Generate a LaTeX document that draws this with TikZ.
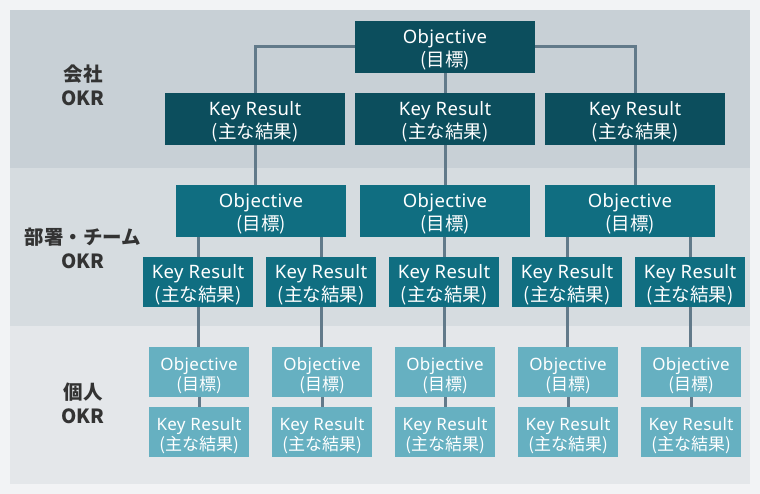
\documentclass[tikz,border=0pt]{standalone}
\usepackage{fontspec}
\setmainfont[LetterSpace=2]{Noto Sans}
\newfontfamily\jp{Noto Sans CJK JP}
\newcommand\mystrut{\rule{0pt}{20pt}}
\definecolor{pagebg}{HTML}{F2F3F5}
\definecolor{bandA}{HTML}{C8D0D6}
\definecolor{bandB}{HTML}{D6DCE0}
\definecolor{bandC}{HTML}{E4E7EA}
\definecolor{darkbox}{HTML}{0C4E5D}
\definecolor{midbox}{HTML}{106E81}
\definecolor{lightbox}{HTML}{66B0C1}
\definecolor{linec}{HTML}{627A8A}
\definecolor{labc}{HTML}{333333}
\begin{document}
\begin{tikzpicture}[x=1pt,y=-1pt,
  basebox/.style={inner sep=0pt, align=center, text=white},
  boxA/.style={basebox, fill=darkbox, minimum width=180pt, minimum height=52pt, font=\fontsize{18.5}{23.5}\selectfont},
  boxB/.style={basebox, fill=midbox, minimum height=52pt, font=\fontsize{18.5}{23.5}\selectfont},
  boxC/.style={basebox, fill=lightbox, minimum width=100pt, minimum height=50pt, font=\fontsize{17}{20}\selectfont},
  lab/.style={align=center, text=labc, inner sep=0pt, font=\jp\bfseries\fontsize{19.5}{24}\selectfont},
  conn/.style={draw=linec, line width=3pt}]
\useasboundingbox (0,0) rectangle (760,494);
\fill[pagebg] (0,0) rectangle (760,494);
\fill[bandA] (10,10) rectangle (750,168);
\fill[bandB] (10,168) rectangle (750,326);
\fill[bandC] (10,326) rectangle (750,484);

\node[lab] (l1) at (83,85) {会社\\OKR};
\node[lab] (l2) at (83,248) {部署・チーム\\OKR};
\node[lab] (l3) at (83,403.5) {個人\\OKR};

% company
\node[boxA] (o0) at (445,47) {\mystrut Objective\\{\jp (目標)}};
\node[boxA] (k1) at (255,119) {\mystrut Key Result\\{\jp (主な結果)}};
\node[boxA] (k2) at (445,119) {\mystrut Key Result\\{\jp (主な結果)}};
\node[boxA] (k3) at (635,119) {\mystrut Key Result\\{\jp (主な結果)}};

% department
\node[boxB, minimum width=170pt] (m1) at (261,211) {\mystrut Objective\\{\jp (目標)}};
\node[boxB, minimum width=170pt] (m2) at (445,211) {\mystrut Objective\\{\jp (目標)}};
\node[boxB, minimum width=170pt] (m3) at (630,211) {\mystrut Objective\\{\jp (目標)}};
\foreach \i/\x in {1/198,2/321,3/444,4/567,5/690}{
  \node[boxB, minimum width=110pt, minimum height=50pt] (d\i) at (\x,282) {\mystrut Key Result\\{\jp (主な結果)}};
}

% individual
\foreach \i/\x in {1/199,2/322,3/445,4/568,5/691}{
  \node[boxC] (p\i) at (\x,372) {\mystrut Objective\\{\jp (目標)}};
  \node[boxC] (q\i) at (\x,432) {\mystrut Key Result\\{\jp (主な結果)}};
}

% connectors
\draw[conn] (o0.west) -| (k1.north);
\draw[conn] (o0.east) -| (k3.north);
\draw[conn] (o0.south) -- (k2.north);
\draw[conn] (k1.south) -- (k1.south |- m1.north);
\draw[conn] (k2.south) -- (k2.south |- m2.north);
\draw[conn] (k3.south) -- (k3.south |- m3.north);
\draw[conn] (d1.north |- m1.south) -- (d1.north);
\draw[conn] (d2.north |- m1.south) -- (d2.north);
\draw[conn] (d3.north |- m2.south) -- (d3.north);
\draw[conn] (d4.north |- m3.south) -- (d4.north);
\draw[conn] (d5.north |- m3.south) -- (d5.north);
\foreach \i in {1,...,5}{
  \draw[conn] (d\i.south) -- (d\i.south |- p\i.north);
  \draw[conn] (p\i.south) -- (p\i.south |- q\i.north);
}
\end{tikzpicture}
\end{document}
